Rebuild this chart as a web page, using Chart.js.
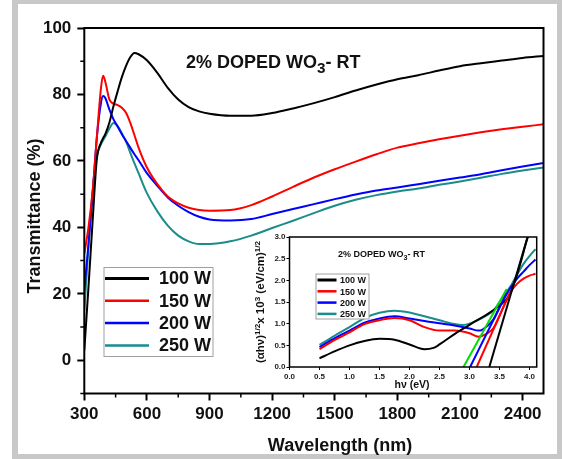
<!DOCTYPE html>
<html>
<head>
<meta charset="utf-8">
<script src="https://cdn.jsdelivr.net/npm/chart.js@4.4.1/dist/chart.umd.min.js"></script>
<style>
  body { margin: 0; background: #fff; }
  #wrap { position: relative; width: 562px; height: 459px; overflow: hidden; background: #fff; }
  #frame { position: absolute; left: 12px; top: 0; width: 550px; height: 459px; box-sizing: border-box;
           border-style: solid; border-color: #c8c8c8; border-width: 4px 5px 5px 6px; }
  #main { position: absolute; left: 0; top: 0; }
  #inset { position: absolute; left: 236px; top: 224px; }
</style>
</head>
<body>
<div id="wrap">
  <div id="frame"></div>
  <canvas id="main" width="562" height="459"></canvas>
  <canvas id="inset" width="310" height="172"></canvas>
</div>
<script>
const FONT = "'Liberation Sans', Arial, Helvetica, sans-serif";

// transmittance spectra (%)
const wavelength = [300,320,340,360,380,390,400,420,440,460,480,500,520,540,560,600,650,700,750,800,
                    850,900,1000,1100,1200,1300,1400,1500,1600,1700,1800,1900,2000,2100,2200,2300,2400,2500];
const trans100 = [3,22,42,60.5,65.5,66.8,68,71.5,76.5,81,85.2,88.6,91.2,92.5,92.1,90.3,86.5,82,78.5,76.2,
                  74.9,74.2,73.6,73.6,74.4,75.8,77.4,79.2,81.2,83,84.6,85.8,87.2,88.5,89.4,90.2,91,91.6];
const trans150 = [32,40,51,67,82,85.6,84,78.5,77.2,76.8,76,74.5,71.5,67.8,64,58,53,49.3,47.2,45.9,
                  45.2,45,45.2,46.7,49.3,52.2,55,57.5,59.8,62,64,65.3,66.5,67.6,68.6,69.5,70.3,71];
const trans200 = [21,35,50,67,77.5,79.5,79,75.5,72.5,70.3,68,66,64,62,60.2,56.3,52.5,49,46.5,44.6,
                  43.2,42.4,42.1,42.5,44,45.5,47,48.5,49.9,51.1,52,53,54,55,56,57.2,58.3,59.4];
const trans250 = [15,34,51,61.3,65,66.2,67.3,69.7,71.4,70.5,68.3,65.8,62.5,59.3,56.3,50.3,44.8,40.5,37.5,35.8,
                  35,35,35.8,37.5,39.8,42,44.3,46.5,48.3,49.7,50.8,51.7,52.8,53.8,54.9,56.1,57.1,58];

const powers = ['100 W', '150 W', '200 W', '250 W'];
const colors = ['#000000', '#ff0000', '#0000ff', '#1a8c8c'];
const transSeries = [trans100, trans150, trans200, trans250];

const xMajor = [300,600,900,1200,1500,1800,2100,2400];
const xMinor = [450,750,1050,1350,1650,1950,2250];
const yMajor = [0,20,40,60,80,100];
const yMinor = [-10,10,30,50,70,90];

// Tauc plot, (αhν)^1/2 x 10^3 vs hν
const tauc100Ev = [0.5,0.75,1.0,1.25,1.5,1.75,2.0,2.25,2.4,2.5,2.75,3.0,3.1,3.3,3.5,3.65,3.75,3.85,3.95,4.05];
const tauc100   = [0.2,0.36,0.5,0.6,0.65,0.63,0.52,0.41,0.44,0.52,0.76,0.97,1.06,1.22,1.42,1.62,1.95,2.4,2.9,3.35];
const tauc150Ev = [0.5,0.75,1.0,1.25,1.5,1.75,2.0,2.25,2.5,2.75,3.0,3.15,3.3,3.4,3.5,3.6,3.7,3.8,3.9,4.0,4.1];
const tauc150   = [0.41,0.62,0.8,0.99,1.08,1.13,1.08,0.92,0.84,0.84,0.78,0.7,0.78,0.9,1.18,1.49,1.76,1.93,2.04,2.11,2.15];
const tauc200Ev = [0.5,0.75,1.0,1.25,1.5,1.75,2.0,2.25,2.5,2.75,3.0,3.15,3.2,3.3,3.4,3.5,3.6,3.7,3.8,3.9,4.0,4.1];
const tauc200   = [0.46,0.66,0.84,1.02,1.12,1.17,1.12,1.06,1.01,0.96,0.89,0.84,0.85,0.95,1.1,1.38,1.64,1.86,2.05,2.2,2.35,2.48];
const tauc250Ev = [0.5,0.75,1.0,1.25,1.5,1.75,2.0,2.25,2.5,2.75,2.9,3.0,3.15,3.3,3.4,3.5,3.6,3.7,3.8,3.9,4.0,4.1];
const tauc250   = [0.51,0.72,0.92,1.13,1.25,1.3,1.26,1.17,1.08,0.99,0.97,1.0,1.09,1.2,1.3,1.5,1.7,1.9,2.15,2.38,2.56,2.72];

// linear fits extrapolated to the band gap
const fit100Ev = [3.33, 4.0], fit100 = [0, 3.15];
const fit150Ev = [3.12, 3.68], fit150 = [0, 1.74];
const fit200Ev = [3.01, 3.62], fit200 = [0, 1.7];
const fit250Ev = [2.9, 3.62],  fit250 = [0, 1.8];
const fitColors = ['#000000', '#ff0000', '#0000ff', '#00dd00'];

const insetTicks = [0,0.5,1.0,1.5,2.0,2.5,3.0,3.5,4.0];
const insetYTicks = [0,0.5,1.0,1.5,2.0,2.5,3.0];

const pts = (xs, ys) => xs.map((x, i) => ({x: x, y: ys[i]}));

// draws a run of text pieces [text, dy, scale], returns its width
function rich(ctx, parts, x, y, size, measureOnly) {
    let cx = x;
    for (const [t, dy, s] of parts) {
        ctx.font = `bold ${size * (s || 1)}px ${FONT}`;
        if (!measureOnly) ctx.fillText(t, cx, y + (dy || 0));
        cx += ctx.measureText(t).width;
    }
    return cx - x;
}

function legendBox(ctx, chart, box, firstY, gap, lineX0, lineX1, textX, size, lw) {
    ctx.save();
    ctx.fillStyle = '#fff';
    ctx.fillRect(box.x, box.y, box.w, box.h);
    ctx.strokeStyle = '#a0a0a0';
    ctx.lineWidth = 1;
    ctx.strokeRect(box.x, box.y, box.w, box.h);
    const sets = chart.data.datasets.filter(d => d.inLegend);
    sets.forEach((d, i) => {
        const y = firstY + i * gap;
        ctx.strokeStyle = d.borderColor;
        ctx.lineWidth = i === 0 ? lw + 0.5 : lw;
        ctx.beginPath();
        ctx.moveTo(lineX0, y);
        ctx.lineTo(lineX1, y);
        ctx.stroke();
        ctx.fillStyle = '#111';
        ctx.font = `bold ${size}px ${FONT}`;
        ctx.textBaseline = 'middle';
        ctx.fillText(d.label, textX, y + 1);
    });
    ctx.restore();
}

const mainDecor = {
    id: 'mainDecor',
    afterDraw(chart) {
        const {ctx, chartArea: a, scales: {x, y}} = chart;
        ctx.save();
        // box around the plot
        ctx.strokeStyle = '#000';
        ctx.lineWidth = 2;
        ctx.strokeRect(a.left, a.top, a.right - a.left, a.bottom - a.top);
        // minor ticks
        ctx.lineWidth = 1.5;
        ctx.beginPath();
        xMinor.forEach(v => { const p = x.getPixelForValue(v); ctx.moveTo(p, a.bottom); ctx.lineTo(p, a.bottom + 4); });
        yMinor.forEach(v => { const p = y.getPixelForValue(v); ctx.moveTo(a.left, p); ctx.lineTo(a.left - 4, p); });
        ctx.stroke();

        ctx.fillStyle = '#111';
        ctx.textBaseline = 'alphabetic';
        ctx.textAlign = 'left';
        rich(ctx, [['2% DOPED WO'], ['3', 5, 0.85], ['- RT']], 186, 67.5, 18);

        ctx.textAlign = 'center';
        ctx.font = `bold 18px ${FONT}`;
        ctx.fillText('Wavelength (nm)', 340, 451);
        ctx.translate(40, 216);
        ctx.rotate(-Math.PI / 2);
        ctx.fillText('Transmittance (%)', 0, 0);
        ctx.restore();

        legendBox(ctx, chart, {x: 104, y: 267.5, w: 109, h: 89}, 278.5, 22.3, 105, 149, 159, 18, 2.5);
    }
};

const insetDecor = {
    id: 'insetDecor',
    beforeDraw(chart) {
        const {ctx, chartArea: a} = chart;
        ctx.save();
        ctx.fillStyle = '#fff';
        ctx.fillRect(a.left, a.top, a.right - a.left, a.bottom - a.top);
        ctx.restore();
    },
    afterDraw(chart) {
        const {ctx, chartArea: a} = chart;
        ctx.save();
        ctx.strokeStyle = '#000';
        ctx.lineWidth = 1.5;
        ctx.strokeRect(a.left, a.top, a.right - a.left, a.bottom - a.top);

        ctx.fillStyle = '#111';
        ctx.textBaseline = 'alphabetic';
        ctx.textAlign = 'left';
        rich(ctx, [['2% DOPED WO'], ['3', 3, 0.8], ['- RT']], 102, 32.5, 9);

        ctx.font = `bold 10.5px ${FONT}`;
        ctx.textAlign = 'center';
        ctx.fillText('h\u03bd (eV)', (a.left + a.right) / 2 - 1, 164);

        // rotated y title with superscripts
        const parts = [['(\u03b1h\u03bd)'], ['1/2', -4.5, 0.7], ['x 10'], ['3', -4.5, 0.7], [' (eV/cm)'], ['1/2', -4.5, 0.7]];
        ctx.textAlign = 'left';
        const w = rich(ctx, parts, 0, 0, 11.5, true);
        ctx.translate(28, (a.top + a.bottom) / 2);
        ctx.rotate(-Math.PI / 2);
        rich(ctx, parts, -w / 2, 0, 11.5);
        ctx.restore();

        legendBox(ctx, chart, {x: 80, y: 50, w: 53, h: 45}, 56, 11.3, 81.5, 100.5, 104, 9, 2.5);
    }
};

const tickFont = (size) => ({family: FONT, size: size, weight: 'bold'});

new Chart(document.getElementById('main'), {
    type: 'line',
    data: {
        datasets: powers.map((p, i) => ({
            label: p,
            inLegend: true,
            data: pts(wavelength, transSeries[i]),
            borderColor: colors[i],
            borderWidth: 2,
            pointRadius: 0,
            cubicInterpolationMode: 'monotone',
            fill: false
        }))
    },
    options: {
        responsive: false,
        animation: false,
        layout: {padding: {top: 28, right: 18.5, left: 0, bottom: 0}},
        plugins: {legend: {display: false}, tooltip: {enabled: false}},
        scales: {
            x: {
                type: 'linear', min: 300, max: 2500,
                afterBuildTicks: s => { s.ticks = xMajor.map(v => ({value: v})); },
                afterFit: s => { s.height = 65.5; },
                grid: {drawOnChartArea: false, tickLength: 7, tickWidth: 2, tickColor: '#000'},
                border: {display: false},
                ticks: {font: tickFont(17), color: '#111', padding: 4, maxRotation: 0, callback: v => String(v)}
            },
            y: {
                type: 'linear', min: -10, max: 100,
                afterBuildTicks: s => { s.ticks = yMajor.map(v => ({value: v})); },
                afterFit: s => { s.width = 84.3; },
                grid: {drawOnChartArea: false, tickLength: 7, tickWidth: 2, tickColor: '#000'},
                border: {display: false},
                ticks: {font: tickFont(17), color: '#111', padding: 6, callback: v => String(v)}
            }
        }
    },
    plugins: [mainDecor]
});

const taucSets = [[tauc100Ev, tauc100], [tauc150Ev, tauc150], [tauc200Ev, tauc200], [tauc250Ev, tauc250]];
const fitSets = [[fit100Ev, fit100], [fit150Ev, fit150], [fit200Ev, fit200], [fit250Ev, fit250]];

new Chart(document.getElementById('inset'), {
    type: 'line',
    data: {
        datasets: [
            ...fitSets.map((f, i) => ({
                label: 'fit ' + powers[i],
                data: pts(f[0], f[1]),
                borderColor: fitColors[i],
                borderWidth: 2,
                pointRadius: 0,
                fill: false
            })),
            ...taucSets.map((t, i) => ({
                label: powers[i],
                inLegend: true,
                data: pts(t[0], t[1]),
                borderColor: colors[i],
                borderWidth: 2,
                pointRadius: 0,
                cubicInterpolationMode: 'monotone',
                fill: false
            }))
        ]
    },
    options: {
        responsive: false,
        animation: false,
        layout: {padding: {top: 13, right: 9.3, left: 0, bottom: 0}},
        plugins: {legend: {display: false}, tooltip: {enabled: false}},
        scales: {
            x: {
                type: 'linear', min: 0, max: 4.12,
                afterBuildTicks: s => { s.ticks = insetTicks.map(v => ({value: v})); },
                afterFit: s => { s.height = 29; },
                grid: {drawOnChartArea: false, tickLength: 3, tickWidth: 1, tickColor: '#000'},
                border: {display: false},
                ticks: {font: tickFont(8), color: '#222', padding: 2, maxRotation: 0, callback: v => v.toFixed(1)}
            },
            y: {
                type: 'linear', min: 0, max: 3,
                afterBuildTicks: s => { s.ticks = insetYTicks.map(v => ({value: v})); },
                afterFit: s => { s.width = 53.5; },
                grid: {drawOnChartArea: false, tickLength: 3, tickWidth: 1, tickColor: '#000'},
                border: {display: false},
                ticks: {font: tickFont(8), color: '#222', padding: 1, callback: v => v.toFixed(1)}
            }
        }
    },
    plugins: [insetDecor]
});
</script>
</body>
</html>
